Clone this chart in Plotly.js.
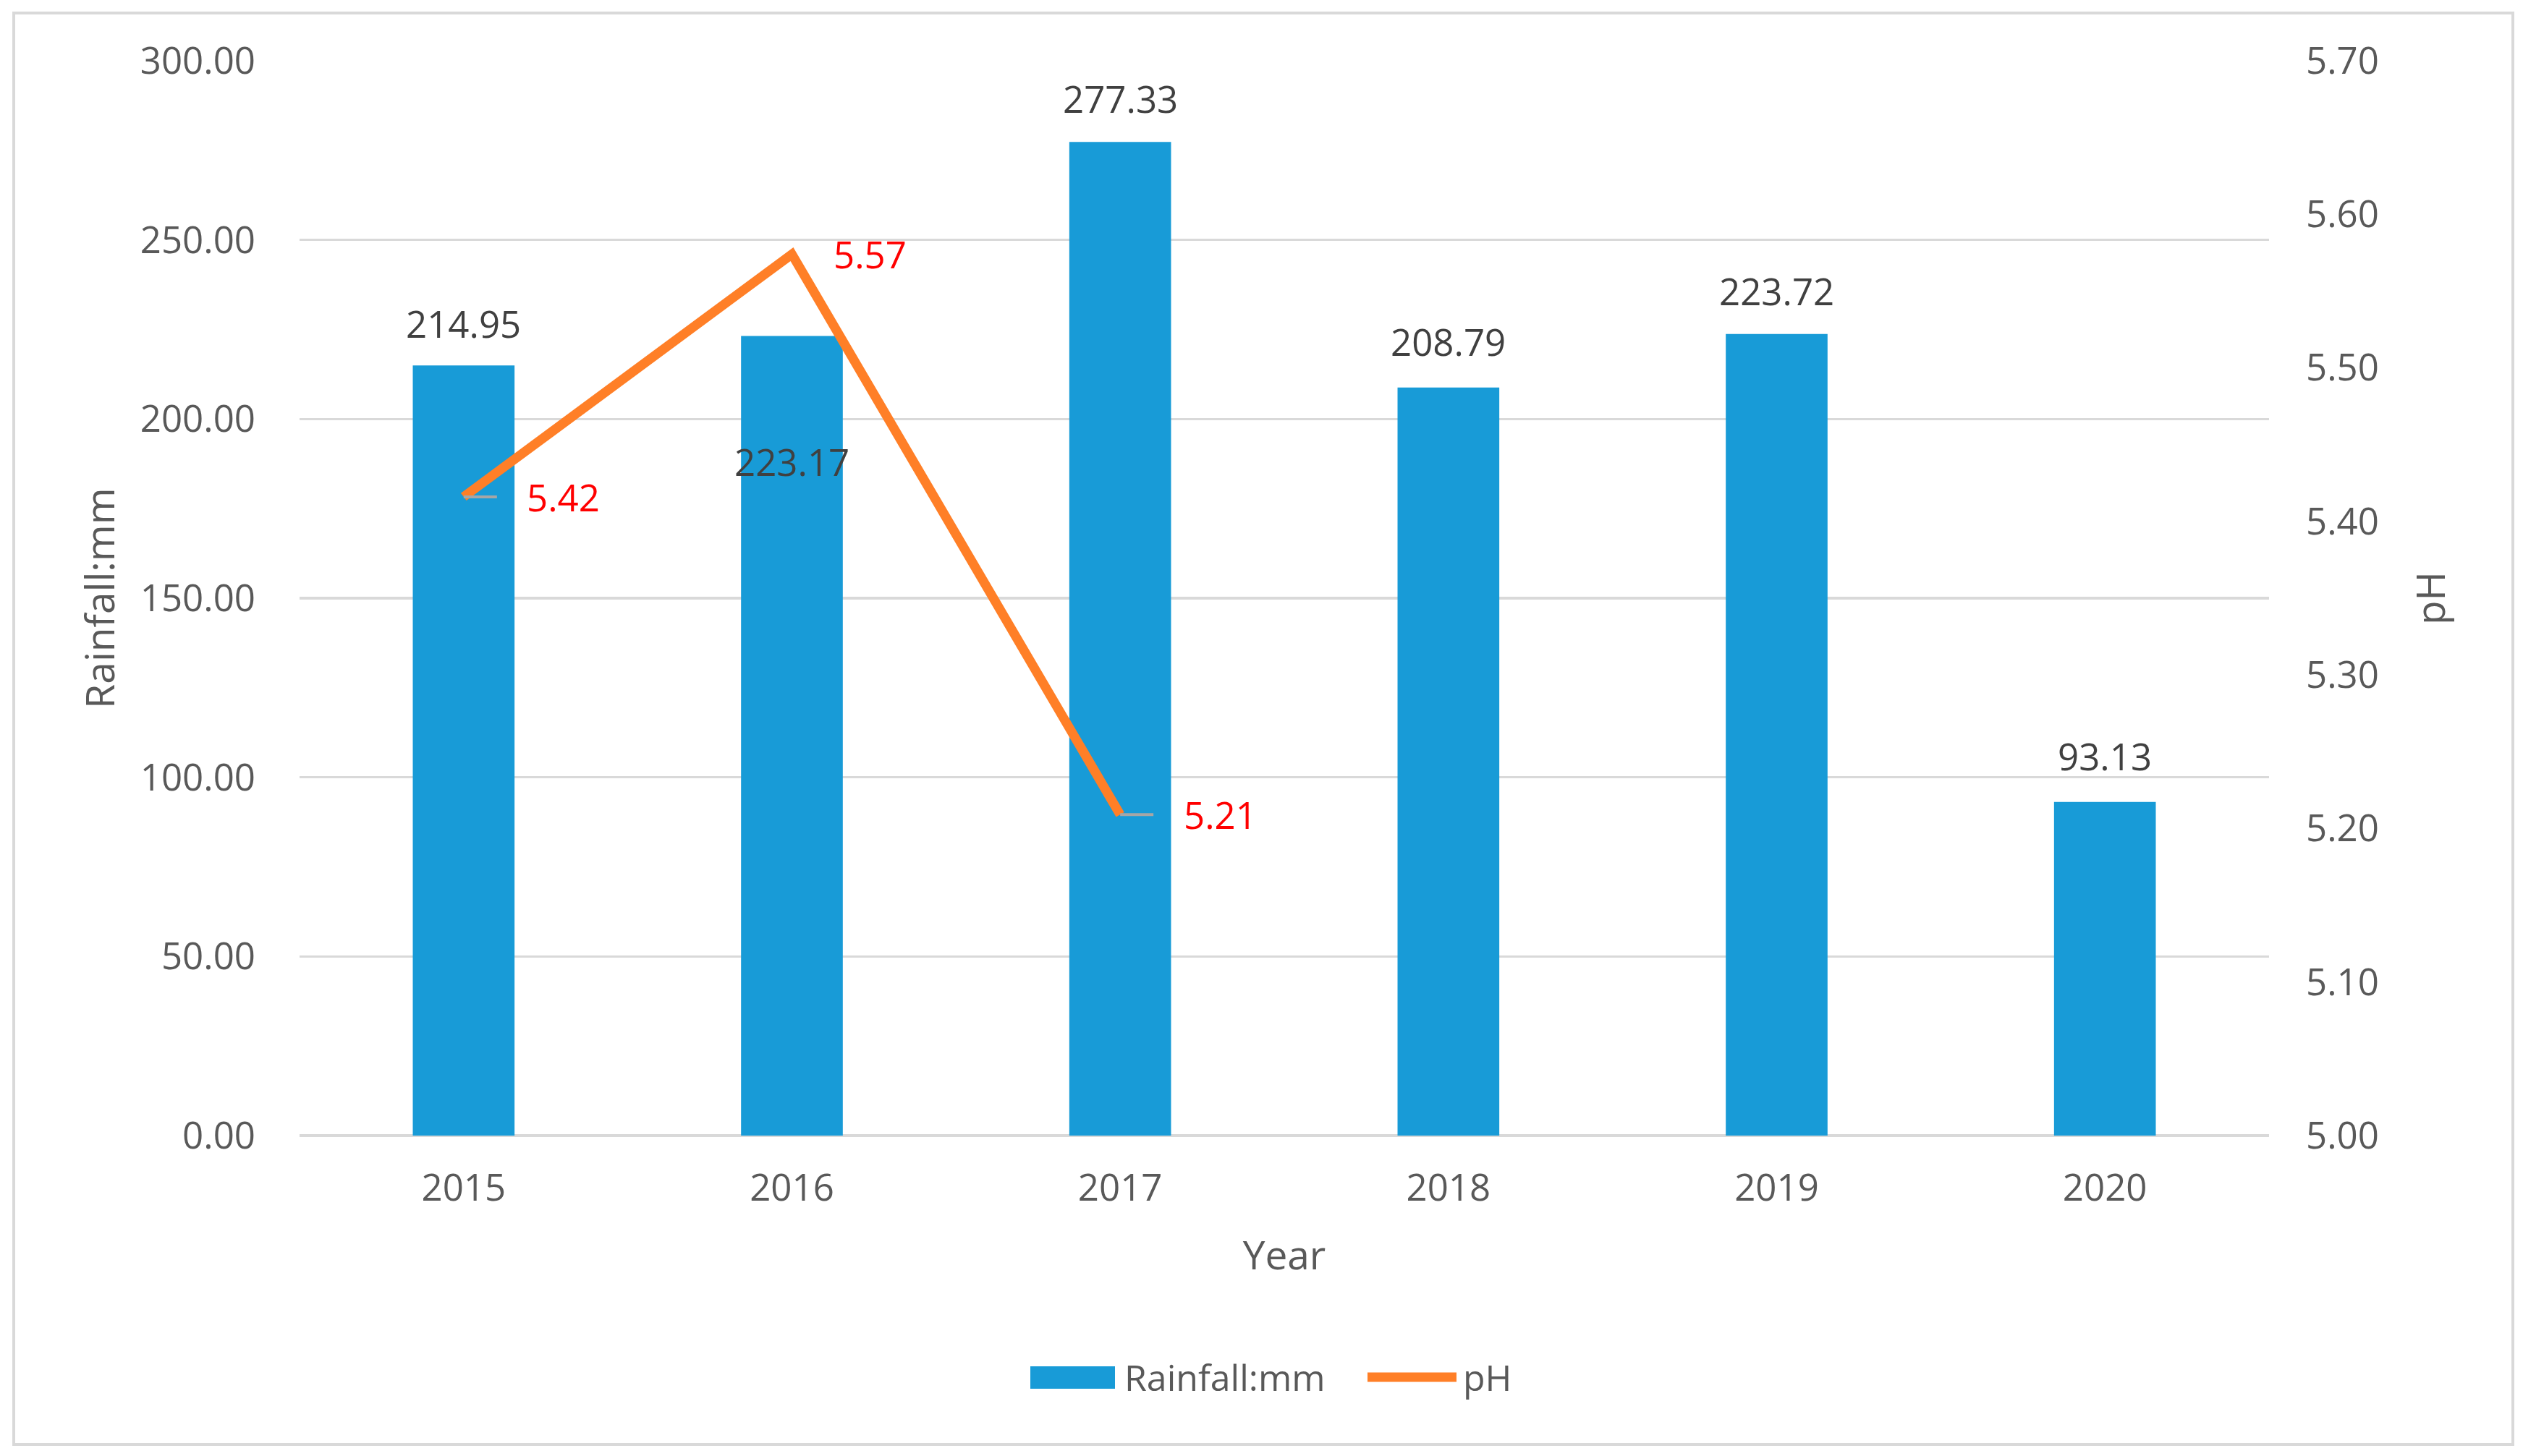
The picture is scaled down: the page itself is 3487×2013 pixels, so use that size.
<!DOCTYPE html>
<html>
<head>
<meta charset="utf-8">
<script src="https://cdn.plot.ly/plotly-3.0.1.min.js"></script>
<style>
html, body { margin: 0; padding: 0; background: #ffffff; }
#chart { width: 3487px; height: 2013px; }
</style>
</head>
<body>
<div id="chart"></div>
<script>
// ---- data ----
const years = ['2015', '2016', '2017', '2018', '2019', '2020'];
const rainfall = [214.95, 223.17, 277.33, 208.79, 223.72, 93.13];
const phYears = ['2015', '2016', '2017'];
const phValues = [5.416, 5.574, 5.209];
const rainTicks = [0, 50, 100, 150, 200, 250, 300];
const phTicks = [5.0, 5.1, 5.2, 5.3, 5.4, 5.5, 5.6, 5.7];
const seriesNames = ['Rainfall:mm', 'pH'];
const axisTitles = { x: 'Year', y: 'Rainfall:mm', y2: 'pH' };

// ---- styling ----
const W = 3487, H = 2013;
const M = { l: 414, r: 351, t: 84, b: 443 };
const PW = W - M.l - M.r, PH = H - M.t - M.b;
const px2x = p => (p - M.l) / PW;
const px2y = p => (H - M.b - p) / PH;
const FONT = 'Open Sans, Noto Sans, sans-serif';
const TICK_COL = '#595959';
const BAR_COL = '#189BD7';
const LINE_COL = '#FF7F27';
const GRID_COL = '#D9D9D9';
const FS = 51;
const TFS = 55;

// per-label vertical offsets (px) of bar value labels
const barLabelShift = [58, -173, 60, 64, 60, 64];
// per-label offsets of pH labels and whether a leader dash is shown
const phLabelShift = [138, 108, 138];
const phLeader = [true, false, true];

const traces = [
  {
    type: 'bar', name: seriesNames[0], x: years, y: rainfall,
    marker: { color: BAR_COL }, yaxis: 'y', showlegend: false,
    hoverinfo: 'x+y'
  },
  {
    type: 'scatter', mode: 'lines', name: seriesNames[1], x: phYears, y: phValues,
    line: { color: LINE_COL, width: 13 }, yaxis: 'y2', showlegend: false
  }
];

const annotations = [];
years.forEach((yr, i) => {
  annotations.push({
    x: years.indexOf(yr), y: rainfall[i], xref: 'x', yref: 'y',
    text: rainfall[i].toFixed(2), showarrow: false,
    yanchor: 'middle', yshift: barLabelShift[i],
    font: { family: FONT, size: FS, color: '#404040' }
  });
});
phYears.forEach((yr, i) => {
  const xi = years.indexOf(yr);
  if (phLeader[i]) {
    annotations.push({
      x: xi, y: phValues[i], xref: 'x', yref: 'y2',
      text: phValues[i].toFixed(2), showarrow: true,
      ax: phLabelShift[i], ay: 0, arrowhead: 0, arrowwidth: 4,
      arrowcolor: '#A6A6A6', standoff: 0, startstandoff: 40,
      font: { family: FONT, size: FS, color: '#FF0000' }
    });
  } else {
    annotations.push({
      x: xi, y: phValues[i], xref: 'x', yref: 'y2',
      text: phValues[i].toFixed(2), showarrow: false,
      xshift: phLabelShift[i], yanchor: 'middle',
      font: { family: FONT, size: FS, color: '#FF0000' }
    });
  }
});

// manual legend text
annotations.push({
  xref: 'paper', yref: 'paper', x: px2x(1552), y: px2y(1904),
  xanchor: 'left', yanchor: 'middle', showarrow: false, text: seriesNames[0],
  font: { family: FONT, size: 50, color: TICK_COL }
});
annotations.push({
  xref: 'paper', yref: 'paper', x: px2x(2020), y: px2y(1904),
  xanchor: 'left', yanchor: 'middle', showarrow: false, text: seriesNames[1],
  font: { family: FONT, size: 50, color: TICK_COL }
});

const shapes = [
  // outer frame
  { type: 'rect', xref: 'paper', yref: 'paper',
    x0: px2x(19), x1: px2x(3473), y0: px2y(1997), y1: px2y(18),
    line: { color: '#D9D9D9', width: 4 }, fillcolor: 'rgba(0,0,0,0)', layer: 'below' },
  // legend swatches
  { type: 'rect', xref: 'paper', yref: 'paper',
    x0: px2x(1424), x1: px2x(1541), y0: px2y(1920), y1: px2y(1889),
    line: { width: 0 }, fillcolor: BAR_COL },
  { type: 'line', xref: 'paper', yref: 'paper',
    x0: px2x(1890), x1: px2x(2013), y0: px2y(1904), y1: px2y(1904),
    line: { color: LINE_COL, width: 13 } }
];

const layout = {
  width: W, height: H,
  margin: M,
  paper_bgcolor: '#ffffff', plot_bgcolor: '#ffffff',
  font: { family: FONT, size: FS, color: TICK_COL },
  showlegend: false,
  bargap: 0.69,
  xaxis: {
    type: 'category', categoryorder: 'array', categoryarray: years,
    range: [-0.5, years.length - 0.5], autorange: false,
    showgrid: false, zeroline: false, showline: false,
    ticks: '', ticklabelstandoff: 38,
    tickfont: { family: FONT, size: FS, color: TICK_COL },
    title: { text: axisTitles.x, standoff: 42, font: { family: FONT, size: TFS, color: TICK_COL } }
  },
  yaxis: {
    range: [0, 300], autorange: false, tickvals: rainTicks, tickformat: '.2f',
    showgrid: true, gridcolor: GRID_COL, gridwidth: 3.5,
    zeroline: true, zerolinecolor: GRID_COL, zerolinewidth: 3.5,
    showline: false, ticks: '', ticklabelstandoff: 60,
    tickfont: { family: FONT, size: FS, color: TICK_COL },
    title: { text: axisTitles.y, standoff: 17, font: { family: FONT, size: TFS, color: TICK_COL } }
  },
  yaxis2: {
    range: [5.0, 5.7], autorange: false, tickvals: phTicks, tickformat: '.2f',
    overlaying: 'y', side: 'right',
    showgrid: false, zeroline: false, showline: false, ticks: '', ticklabelstandoff: 50,
    tickfont: { family: FONT, size: FS, color: TICK_COL },
    title: { text: axisTitles.y2, standoff: 53, font: { family: FONT, size: TFS, color: TICK_COL } }
  },
  annotations: annotations,
  shapes: shapes
};

Plotly.newPlot('chart', traces, layout, { staticPlot: true, displayModeBar: false });
</script>
</body>
</html>
